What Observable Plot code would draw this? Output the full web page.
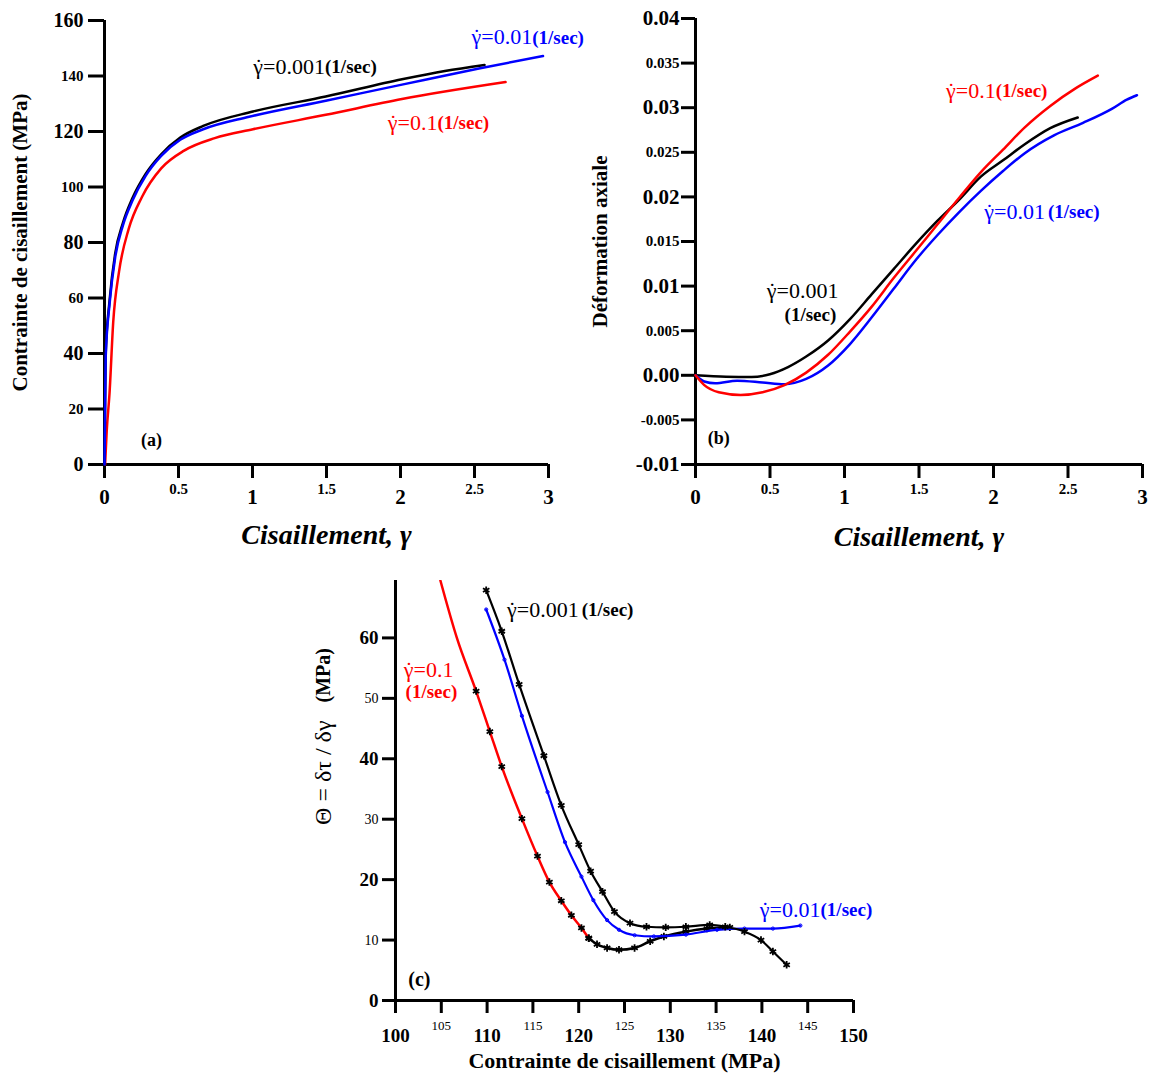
<!DOCTYPE html>
<html><head><meta charset="utf-8">
<script src="https://cdn.jsdelivr.net/npm/d3@7"></script>
<script src="https://cdn.jsdelivr.net/npm/@observablehq/plot@0.6"></script>
<style>
body{margin:0;background:#fff;}
#wrap{position:relative;width:1152px;height:1077px;overflow:hidden;background:#fff;}
.panel{position:absolute;}
</style></head>
<body><div id="wrap">
<div id="pa" class="panel" style="left:0;top:0"></div>
<div id="pb" class="panel" style="left:575px;top:0"></div>
<div id="pc" class="panel" style="left:290px;top:575px"></div>
</div>
<script>
// ---------- Panel (a): shear stress vs shear strain ----------
const A_gamma_0001 = [0, 0.004, 0.008, 0.034, 0.072, 0.124, 0.189, 0.279, 0.383, 0.512, 0.667, 1.003, 1.495, 2.01, 2.3, 2.568];
const A_tau_0001   = [0, 22, 40, 59, 76, 87, 96, 104.8, 111.8, 117.8, 122.0, 127.2, 132.6, 138.8, 141.8, 144.0];
const A_gamma_001  = [0, 0.004, 0.008, 0.034, 0.072, 0.124, 0.189, 0.279, 0.383, 0.512, 0.667, 0.977, 1.495, 2.01, 2.53, 2.963];
const A_tau_001    = [0, 20, 38.6, 57.8, 74.6, 86.1, 95.1, 104.1, 111.2, 117.0, 120.8, 125.3, 131.1, 136.9, 142.7, 147.2];
const A_gamma_01   = [0.004, 0.015, 0.034, 0.059, 0.098, 0.163, 0.253, 0.383, 0.538, 0.745, 1.003, 1.495, 2.01, 2.71];
const A_tau_01     = [0, 12, 25.7, 51.4, 69.4, 84.8, 96.4, 106.7, 113.1, 117.6, 120.8, 126.0, 131.7, 137.8];
const A_yMajor = [0, 40, 80, 120, 160], A_yMinor = [20, 60, 100, 140];
const A_xMajor = [0, 1, 2, 3], A_xMinor = [0.5, 1.5, 2.5];
const A_labRate = ["0.001", "0.01", "0.1"];
const A_labX = [1.49, 2.89, 2.25];
const A_labY = [143.3, 153.9, 123.1];

// ---------- Panel (b): axial strain vs shear strain ----------
const B_gamma_0001 = [0, 0.205, 0.377, 0.499, 0.621, 0.743, 0.89, 1.037, 1.183, 1.33, 1.477, 1.623, 1.77, 1.917, 2.064, 2.21, 2.381, 2.565];
const B_eps_0001   = [0, -0.00016, -0.0002, 0.00012, 0.00092, 0.0021, 0.0039, 0.0063, 0.0091, 0.0119, 0.0147, 0.0173, 0.0197, 0.0223, 0.0241, 0.0259, 0.0277, 0.0289];
const B_gamma_001  = [0, 0.059, 0.132, 0.279, 0.45, 0.597, 0.743, 0.89, 1.037, 1.183, 1.33, 1.477, 1.623, 1.77, 1.917, 2.064, 2.21, 2.406, 2.601, 2.797, 2.895, 2.963];
const B_eps_001    = [0, -0.0007, -0.0009, -0.0006, -0.0008, -0.001, -0.0004, 0.0011, 0.0035, 0.0065, 0.0097, 0.0129, 0.0157, 0.0183, 0.0207, 0.0229, 0.0249, 0.0269, 0.0283, 0.0299, 0.0309, 0.0314];
const B_gamma_01   = [0, 0.059, 0.156, 0.303, 0.45, 0.597, 0.743, 0.89, 1.037, 1.183, 1.33, 1.477, 1.623, 1.77, 1.917, 2.064, 2.21, 2.381, 2.553, 2.7];
const B_eps_01     = [0, -0.0011, -0.0019, -0.0022, -0.0019, -0.0011, 0.0003, 0.0023, 0.0049, 0.0077, 0.0109, 0.0139, 0.0169, 0.0199, 0.0228, 0.0253, 0.0278, 0.0302, 0.0322, 0.0336];
const B_yMajor = [-0.01, 0, 0.01, 0.02, 0.03, 0.04], B_yMinor = [-0.005, 0.005, 0.015, 0.025, 0.035];
const B_xMajor = [0, 1, 2, 3], B_xMinor = [0.5, 1.5, 2.5];

// ---------- Panel (c): hardening rate vs shear stress ----------
const C_tau_01    = [104.9, 106.7, 108.8, 110.3, 111.6, 113.8, 115.5, 116.8, 118.1, 119.2, 120.3, 121.1];
const C_theta_01  = [69.5, 60.0, 51.2, 44.5, 38.7, 30.1, 23.9, 19.6, 16.5, 14.1, 12.0, 10.3];
const C_tau_01t   = [121.1, 122.0, 123.1, 124.4, 126.1, 127.8, 129.3, 131.7, 134.0, 136.5];
const C_theta_01t = [10.3, 9.3, 8.7, 8.4, 8.7, 9.8, 10.6, 11.4, 11.9, 12.1];
const C_tau_0001   = [109.9, 111.6, 113.5, 116.2, 118.1, 120.0, 121.3, 122.6, 123.9, 125.6, 127.4, 129.5, 131.7, 134.3, 136.0, 138.1, 139.9, 141.2, 142.7];
const C_theta_0001 = [67.9, 61.1, 52.3, 40.5, 32.3, 25.8, 21.4, 18.0, 14.7, 12.8, 12.2, 12.1, 12.2, 12.5, 12.2, 11.4, 10.0, 8.1, 5.9];
const C_tau_001    = [109.9, 111.9, 113.8, 116.6, 118.5, 120.3, 121.6, 123.1, 124.4, 126.1, 128.2, 131.7, 135.1, 138.1, 141.2, 144.2];
const C_theta_001  = [64.7, 56.4, 47.1, 34.5, 26.2, 20.5, 16.6, 13.3, 11.7, 10.8, 10.6, 10.9, 11.7, 11.9, 11.9, 12.4];
const C_xMajor = [100, 110, 120, 130, 140, 150], C_xMinor = [105, 115, 125, 135, 145];
const C_yMajor = [0, 20, 40, 60], C_yMinor = [10, 30, 50];

const BLACK = "#000000", BLUE = "#0000ff", RED = "#ff0000";
const SERIF = '"Liberation Serif","Times New Roman",serif';
const GDOT = "\u03b3\u0307";
const rows = (xs, ys) => xs.map((x, i) => ({x, y: ys[i]}));
const fmt = d => String(d);
const styleBase = {fontFamily: SERIF, background: "transparent", overflow: "visible", color: "#000"};

// Render the combining dot over gamma as a spacing dot placed above the glyph
function dotGamma(svg) {
  d3.select(svg).selectAll("text").each(function () {
    const t = this.textContent;
    if (t.startsWith(GDOT)) {
      const rest = t.slice(2);
      const s = d3.select(this);
      s.text(null);
      s.append("tspan").text("\u03b3");
      s.append("tspan").attr("dx", "-0.37em").text("\u02d9");
      s.append("tspan").attr("dx", "0.04em").text(rest);
    }
  });
  return svg;
}

// ---------- Draw (a) ----------
const labA = A_labRate.map((r, i) => ({x: A_labX[i], y: A_labY[i], rate: r, c: [BLACK, BLUE, RED][i]}));
const plotA = Plot.plot({
  width: 575, height: 560, marginLeft: 104, marginRight: 27, marginTop: 20, marginBottom: 96,
  x: {domain: [0, 3]}, y: {domain: [0, 160]}, color: {type: "identity"},
  style: styleBase,
  marks: [
    Plot.axisY(A_yMajor, {tickSize: 16, strokeWidth: 3, fontSize: 20, fontWeight: "bold", tickPadding: 5, label: null}),
    Plot.axisY(A_yMinor, {tickSize: 16, strokeWidth: 3, fontSize: 15, fontWeight: "bold", tickPadding: 5, label: null}),
    Plot.axisX(A_xMajor, {tickSize: 14, strokeWidth: 3, fontSize: 21, fontWeight: "bold", tickPadding: 11, label: null, tickFormat: fmt}),
    Plot.axisX(A_xMinor, {tickSize: 14, strokeWidth: 3, fontSize: 15, fontWeight: "bold", tickPadding: 5, label: null, tickFormat: fmt}),
    Plot.ruleX([0], {strokeWidth: 3}),
    Plot.ruleY([0], {strokeWidth: 3}),
    Plot.line(rows(A_gamma_01, A_tau_01), {x: "x", y: "y", stroke: RED, strokeWidth: 2.5, curve: "monotone-x"}),
    Plot.line(rows(A_gamma_0001, A_tau_0001), {x: "x", y: "y", stroke: BLACK, strokeWidth: 2.5, curve: "monotone-x"}),
    Plot.line(rows(A_gamma_001, A_tau_001), {x: "x", y: "y", stroke: BLUE, strokeWidth: 2.5, curve: "monotone-x"}),
    Plot.text(labA, {x: "x", y: "y", text: d => GDOT + "=" + d.rate, fill: "c", textAnchor: "end", fontSize: 22}),
    Plot.text(labA, {x: "x", y: "y", text: () => "(1/sec)", fill: "c", textAnchor: "start", fontSize: 19, fontWeight: "bold"}),
    Plot.text(["(a)"], {x: 0.318, y: 8.7, fontSize: 18, fontWeight: "bold"}),
    Plot.text(["Contrainte de cisaillement (MPa)"], {frameAnchor: "left", rotate: -90, dx: -84, textAnchor: "middle", fontSize: 21, fontWeight: "bold"}),
    Plot.text(["Cisaillement, \u03b3"], {frameAnchor: "bottom", dy: 79, textAnchor: "middle", fontSize: 28, fontWeight: "bold", fontStyle: "italic"})
  ]
});
document.getElementById("pa").append(dotGamma(plotA));

// ---------- Draw (b) ----------
const plotB = Plot.plot({
  width: 577, height: 560, marginLeft: 120, marginRight: 10, marginTop: 18, marginBottom: 96,
  x: {domain: [0, 3]}, y: {domain: [-0.01, 0.04]}, color: {type: "identity"},
  style: styleBase,
  marks: [
    Plot.axisY(B_yMajor, {tickSize: 14, strokeWidth: 3, fontSize: 21, fontWeight: "bold", tickPadding: 2, label: null, tickFormat: d => d.toFixed(2)}),
    Plot.axisY(B_yMinor, {tickSize: 14, strokeWidth: 3, fontSize: 15, fontWeight: "bold", tickPadding: 2, label: null, tickFormat: d => d.toFixed(3)}),
    Plot.axisX(B_xMajor, {tickSize: 14, strokeWidth: 3, fontSize: 21, fontWeight: "bold", tickPadding: 11, label: null, tickFormat: fmt}),
    Plot.axisX(B_xMinor, {tickSize: 14, strokeWidth: 3, fontSize: 15, fontWeight: "bold", tickPadding: 5, label: null, tickFormat: fmt}),
    Plot.ruleX([0], {strokeWidth: 3}),
    Plot.ruleY([-0.01], {strokeWidth: 3}),
    Plot.line(rows(B_gamma_0001, B_eps_0001), {x: "x", y: "y", stroke: BLACK, strokeWidth: 2.5, curve: "monotone-x"}),
    Plot.line(rows(B_gamma_001, B_eps_001), {x: "x", y: "y", stroke: BLUE, strokeWidth: 2.5, curve: "monotone-x"}),
    Plot.line(rows(B_gamma_01, B_eps_01), {x: "x", y: "y", stroke: RED, strokeWidth: 2.5, curve: "monotone-x"}),
    Plot.text([{x: 2.015, y: 0.0319}], {x: "x", y: "y", text: () => GDOT + "=0.1", fill: RED, textAnchor: "end", fontSize: 22}),
    Plot.text([{x: 2.015, y: 0.0319}], {x: "x", y: "y", text: () => "(1/sec)", fill: RED, textAnchor: "start", fontSize: 19, fontWeight: "bold"}),
    Plot.text([{x: 2.345, y: 0.0183}], {x: "x", y: "y", text: () => GDOT + "=0.01", fill: BLUE, textAnchor: "end", fontSize: 22}),
    Plot.text([{x: 2.345, y: 0.0183}], {x: "x", y: "y", text: () => "(1/sec)", fill: BLUE, textAnchor: "start", fontSize: 19, fontWeight: "bold", dx: 3}),
    Plot.text([{x: 0.96, y: 0.0094}], {x: "x", y: "y", text: () => GDOT + "=0.001", fill: BLACK, textAnchor: "end", fontSize: 22}),
    Plot.text([{x: 0.945, y: 0.0068}], {x: "x", y: "y", text: () => "(1/sec)", fill: BLACK, textAnchor: "end", fontSize: 19, fontWeight: "bold"}),
    Plot.text(["(b)"], {x: 0.156, y: -0.0071, fontSize: 18, fontWeight: "bold"}),
    Plot.text(["D\u00e9formation axiale"], {frameAnchor: "left", rotate: -90, dx: -95, textAnchor: "middle", fontSize: 21, fontWeight: "bold"}),
    Plot.text(["Cisaillement, \u03b3"], {frameAnchor: "bottom", dy: 81, textAnchor: "middle", fontSize: 28, fontWeight: "bold", fontStyle: "italic"})
  ]
});
document.getElementById("pb").append(dotGamma(plotB));

// ---------- Draw (c) ----------
const plotC = Plot.plot({
  width: 590, height: 500, marginLeft: 105, marginRight: 27, marginTop: 5, marginBottom: 75,
  x: {domain: [100, 150]}, y: {domain: [0, 69.5]}, color: {type: "identity"},
  style: styleBase,
  marks: [
    Plot.axisY(C_yMajor, {tickSize: 13, strokeWidth: 3, fontSize: 19, fontWeight: "bold", tickPadding: 4, label: null}),
    Plot.axisY(C_yMinor, {tickSize: 13, strokeWidth: 3, fontSize: 14, tickPadding: 4, label: null}),
    Plot.axisX(C_xMajor, {tickSize: 13, strokeWidth: 3, fontSize: 19, fontWeight: "bold", tickPadding: 15, label: null}),
    Plot.axisX(C_xMinor, {tickSize: 13, strokeWidth: 3, fontSize: 13, tickPadding: 7, label: null}),
    Plot.ruleX([100], {strokeWidth: 3}),
    Plot.ruleY([0], {strokeWidth: 3}),
    Plot.line(rows(C_tau_01, C_theta_01), {x: "x", y: "y", stroke: RED, strokeWidth: 2.5, curve: "monotone-x", clip: true}),
    Plot.line(rows(C_tau_01t, C_theta_01t), {x: "x", y: "y", stroke: BLACK, strokeWidth: 2.5, curve: "monotone-x", clip: true}),
    Plot.dot(rows(C_tau_01, C_theta_01), {x: "x", y: "y", symbol: "asterisk", r: 3.5, stroke: BLACK, strokeWidth: 1.8, filter: d => d.y < 52}),
    Plot.dot(rows(C_tau_01t, C_theta_01t), {x: "x", y: "y", symbol: "asterisk", r: 3.5, stroke: BLACK, strokeWidth: 1.8}),
    Plot.line(rows(C_tau_001, C_theta_001), {x: "x", y: "y", stroke: BLUE, strokeWidth: 2.2, curve: "monotone-x", clip: true}),
    Plot.dot(rows(C_tau_001, C_theta_001), {x: "x", y: "y", r: 1.6, stroke: BLUE, strokeWidth: 1}),
    Plot.line(rows(C_tau_0001, C_theta_0001), {x: "x", y: "y", stroke: BLACK, strokeWidth: 2.2, curve: "monotone-x", clip: true}),
    Plot.dot(rows(C_tau_0001, C_theta_0001), {x: "x", y: "y", symbol: "asterisk", r: 3.5, stroke: BLACK, strokeWidth: 1.8}),
    Plot.text([{x: 120.0, y: 64.6}], {x: "x", y: "y", text: () => GDOT + "=0.001", fill: BLACK, textAnchor: "end", fontSize: 22}),
    Plot.text([{x: 120.0, y: 64.6}], {x: "x", y: "y", text: () => "(1/sec)", fill: BLACK, textAnchor: "start", fontSize: 19, fontWeight: "bold", dx: 3}),
    Plot.text([{x: 100.9, y: 54.7}], {x: "x", y: "y", text: () => GDOT + "=0.1", fill: RED, textAnchor: "start", fontSize: 22}),
    Plot.text([{x: 101.1, y: 51.0}], {x: "x", y: "y", text: () => "(1/sec)", fill: RED, textAnchor: "start", fontSize: 19, fontWeight: "bold"}),
    Plot.text([{x: 146.4, y: 15.0}], {x: "x", y: "y", text: () => GDOT + "=0.01", fill: BLUE, textAnchor: "end", fontSize: 22}),
    Plot.text([{x: 146.4, y: 15.0}], {x: "x", y: "y", text: () => "(1/sec)", fill: BLUE, textAnchor: "start", fontSize: 19, fontWeight: "bold"}),
    Plot.text(["(c)"], {x: 102.6, y: 3.5, fontSize: 20, fontWeight: "bold"}),
    Plot.text(["\u0398 = \u03b4\u03c4 / \u03b4\u03b3"], {frameAnchor: "left", rotate: -90, dx: -72, dy: -70, textAnchor: "end", fontSize: 24}),
    Plot.text(["(MPa)"], {frameAnchor: "left", rotate: -90, dx: -72, dy: -88, textAnchor: "start", fontSize: 20, fontWeight: "bold"}),
    Plot.text(["Contrainte de cisaillement (MPa)"], {frameAnchor: "bottom", dy: 67, textAnchor: "middle", fontSize: 22, fontWeight: "bold"})
  ]
});
document.getElementById("pc").append(dotGamma(plotC));
</script>
</body></html>
